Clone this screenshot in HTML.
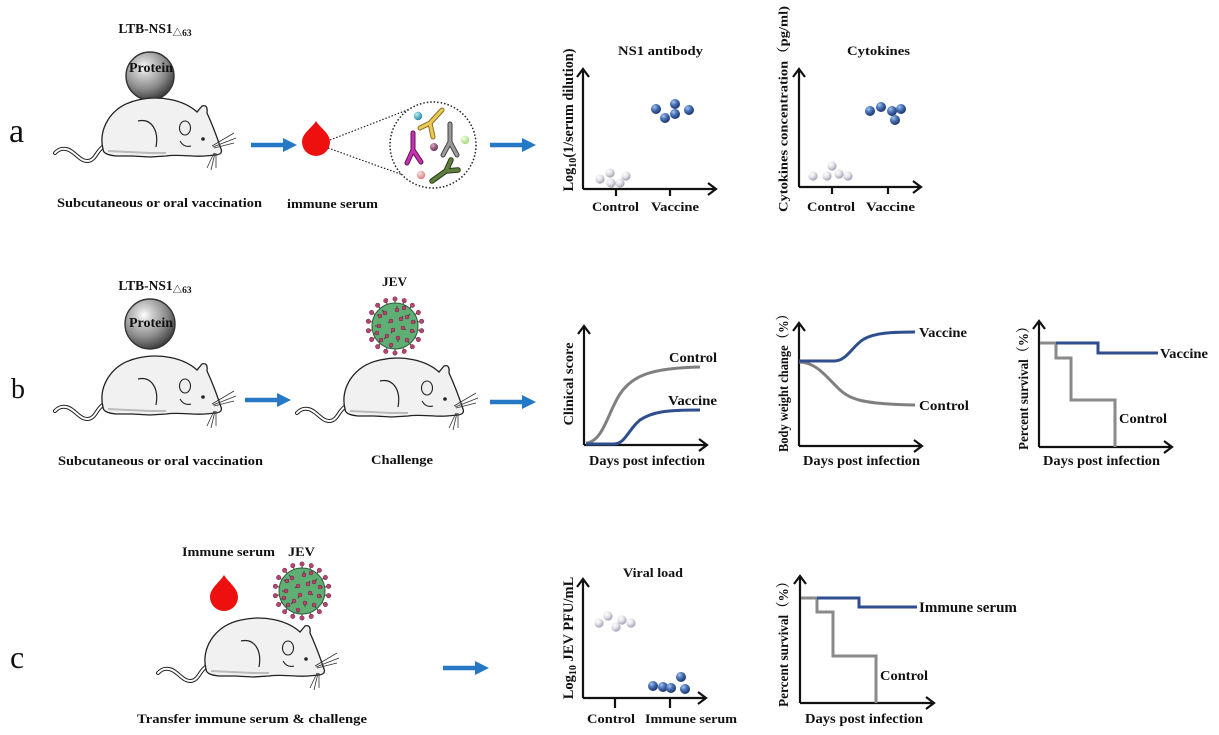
<!DOCTYPE html>
<html>
<head>
<meta charset="utf-8">
<style>
html,body{margin:0;padding:0;background:#fff;}
svg{display:block;}
.t{font-family:"Liberation Serif","Noto Serif CJK SC",serif;font-weight:bold;fill:#111;}
.L{font-family:"Liberation Serif",serif;font-weight:normal;fill:#111;}
</style>
</head>
<body>
<svg width="1219" height="735" viewBox="0 0 1219 735" xmlns="http://www.w3.org/2000/svg">
<defs>
  <radialGradient id="prot" cx="38%" cy="32%" r="70%">
    <stop offset="0" stop-color="#ffffff"/>
    <stop offset="0.22" stop-color="#d0d0d0"/>
    <stop offset="0.65" stop-color="#8a8a8a"/>
    <stop offset="1" stop-color="#3e3e3e"/>
  </radialGradient>
  <radialGradient id="gdot" cx="35%" cy="30%" r="70%">
    <stop offset="0" stop-color="#ffffff"/>
    <stop offset="0.5" stop-color="#e2e2ea"/>
    <stop offset="1" stop-color="#a4a4b4"/>
  </radialGradient>
  <radialGradient id="bdot" cx="35%" cy="30%" r="70%">
    <stop offset="0" stop-color="#a8c4ee"/>
    <stop offset="0.45" stop-color="#4a74b8"/>
    <stop offset="1" stop-color="#1c3670"/>
  </radialGradient>
  <radialGradient id="teal" cx="35%" cy="30%" r="70%"><stop offset="0" stop-color="#b8ecf4"/><stop offset="1" stop-color="#2a8aa4"/></radialGradient>
  <radialGradient id="purp" cx="35%" cy="30%" r="70%"><stop offset="0" stop-color="#d8a8c0"/><stop offset="1" stop-color="#6a3050"/></radialGradient>
  <radialGradient id="lgreen" cx="35%" cy="30%" r="70%"><stop offset="0" stop-color="#f0ffe0"/><stop offset="1" stop-color="#a8d880"/></radialGradient>
  <radialGradient id="pink" cx="35%" cy="30%" r="70%"><stop offset="0" stop-color="#fde0e0"/><stop offset="1" stop-color="#d88080"/></radialGradient>

  <g id="mouse">
    <path d="M104,146 C96,151 96,160 88,161 C80,162 74,150 66,149 C60,148 57,151 55,153" fill="none" stroke="#222" stroke-width="4" stroke-linecap="round"/>
    <path d="M104,146 C96,151 96,160 88,161 C80,162 74,150 66,149 C60,148 57,151 55,153" fill="none" stroke="#fff" stroke-width="2" stroke-linecap="round"/>
    <path d="M103,149 C98,130 110,106 138,100 C160,95 184,100 197,112 L202,106 Q208,104 207,113 C213,126 218,140 221,149 Q223,154 216,155 L205,156 C192,157 178,154 166,156 L150,157 L132,156 L116,156 C107,155 103,153 103,149 Z" fill="#f1f1f1" stroke="#222" stroke-width="1.3"/>
    <path d="M108,151 L150,153 L166,153" fill="none" stroke="#bbb" stroke-width="2"/>
    <ellipse cx="185" cy="128" rx="5.5" ry="7" fill="#eee" stroke="#222" stroke-width="1.1"/>
    <circle cx="203" cy="139" r="1.8" fill="#222"/>
    <path d="M138,121 C152,118 159,131 156,147" fill="none" stroke="#222" stroke-width="1.2"/>
    <path d="M180,141 Q184,148 191,146" fill="none" stroke="#222" stroke-width="1.1"/>
    <path d="M212,146 L234,133 M213,147 L236,138 M214,148 L234,143 M214,153 L207,168 M215,153 L211,170 M216,153 L216,168" stroke="#333" stroke-width="0.8" fill="none"/>
  </g>

  <g id="spike">
    <line x1="0" y1="-22" x2="0" y2="-26" stroke="#2e4a30" stroke-width="1"/>
    <circle cx="0" cy="-27" r="2.2" fill="#b8456f" stroke="#6a2040" stroke-width="0.5"/>
  </g>
  <g id="knob"><circle r="2" fill="#b8456f" stroke="#6a2040" stroke-width="0.5"/></g>
  <g id="virus">
    <use href="#spike" transform="rotate(0)"/><use href="#spike" transform="rotate(20)"/>
    <use href="#spike" transform="rotate(40)"/><use href="#spike" transform="rotate(60)"/>
    <use href="#spike" transform="rotate(80)"/><use href="#spike" transform="rotate(100)"/>
    <use href="#spike" transform="rotate(120)"/><use href="#spike" transform="rotate(140)"/>
    <use href="#spike" transform="rotate(160)"/><use href="#spike" transform="rotate(180)"/>
    <use href="#spike" transform="rotate(200)"/><use href="#spike" transform="rotate(220)"/>
    <use href="#spike" transform="rotate(240)"/><use href="#spike" transform="rotate(260)"/>
    <use href="#spike" transform="rotate(280)"/><use href="#spike" transform="rotate(300)"/>
    <use href="#spike" transform="rotate(320)"/><use href="#spike" transform="rotate(340)"/>
    <circle r="23" fill="#5fae74" stroke="#2e5c3a" stroke-width="1"/>
    <path d="M-10,-13 l-3,-3 M2,-16 l0,-4 M12,-9 l3,-3 M-16,0 l-4,0 M-4,-5 l-3,2 M8,2 l3,2 M17,5 l3,1 M-8,10 l-3,3 M3,12 l0,4 M12,14 l2,3 M-15,-10 l-3,-1 M-2,4 l-2,3 M6,-7 l2,-3 M-14,14 l-2,2 M18,-4 l3,0 M-18,7 l-3,1 M-4,19 l0,3 M9,-18 l1,-3" stroke="#2e4a30" stroke-width="1" fill="none"/>
    <use href="#knob" x="-10" y="-13"/><use href="#knob" x="2" y="-16"/><use href="#knob" x="12" y="-9"/>
    <use href="#knob" x="-16" y="0"/><use href="#knob" x="-4" y="-5"/><use href="#knob" x="8" y="2"/>
    <use href="#knob" x="17" y="5"/><use href="#knob" x="-8" y="10"/><use href="#knob" x="3" y="12"/>
    <use href="#knob" x="12" y="14"/><use href="#knob" x="-15" y="-10"/><use href="#knob" x="-2" y="4"/>
    <use href="#knob" x="6" y="-7"/><use href="#knob" x="-14" y="14"/><use href="#knob" x="18" y="-4"/>
    <use href="#knob" x="-18" y="7"/><use href="#knob" x="-4" y="19"/><use href="#knob" x="9" y="-18"/>
  </g>

  <g id="barrow">
    <line x1="0" y1="0" x2="34" y2="0" stroke="#2478c5" stroke-width="4.5"/>
    <polygon points="32,-7 46,0 32,7" fill="#2478c5"/>
  </g>
</defs>

<!-- ===== Row a ===== -->
<text class="L" x="9" y="142" font-size="34">a</text>
<text class="t" x="155" y="33" font-size="13.5" text-anchor="middle">LTB-NS1<tspan font-size="9.5" dy="3">△63</tspan></text>
<circle cx="150" cy="76" r="24" fill="url(#prot)" stroke="#333" stroke-width="1.4"/>
<text class="t" x="151" y="72" font-size="14" text-anchor="middle">Protein</text>
<use href="#mouse"/>
<text class="t" x="159.5" y="207" font-size="13" text-anchor="middle" textLength="205" lengthAdjust="spacingAndGlyphs">Subcutaneous or oral vaccination</text>
<use href="#barrow" x="251" y="145"/>

<!-- drop + inset -->
<path d="M316,121 C320,128 330,133 330,142 A14,14 0 1 1 302,142 C302,133 312,128 316,121 Z" fill="#ee0f0f"/>
<line x1="330" y1="140" x2="415" y2="107" stroke="#222" stroke-width="1.2" stroke-dasharray="1.5 1.8"/>
<line x1="328" y1="148" x2="428" y2="184" stroke="#222" stroke-width="1.2" stroke-dasharray="1.5 1.8"/>
<circle cx="433" cy="145" r="43" fill="#fff" stroke="#222" stroke-width="1.5" stroke-dasharray="1.5 2"/>
<g fill="none" stroke-linecap="round" stroke-linejoin="round">
  <path d="M442,110 L430,123 L420,128 M430,123 L433,137" stroke="#8a7020" stroke-width="5"/>
  <path d="M442,110 L430,123 L420,128 M430,123 L433,137" stroke="#eacb58" stroke-width="3"/>
  <path d="M413,133 L413,150 L407,163 M413,150 L421,162" stroke="#601050" stroke-width="5"/>
  <path d="M413,133 L413,150 L407,163 M413,150 L421,162" stroke="#c632b4" stroke-width="3"/>
  <path d="M450,124 L450,142 L443,155 M450,142 L457,155" stroke="#404040" stroke-width="5"/>
  <path d="M450,124 L450,142 L443,155 M450,142 L457,155" stroke="#9a9a9a" stroke-width="3"/>
  <path d="M432,181 L446,171 L451,160 M446,171 L458,170" stroke="#2a3a1a" stroke-width="5.5"/>
  <path d="M432,181 L446,171 L451,160 M446,171 L458,170" stroke="#5e7e3e" stroke-width="3.5"/>
</g>
<circle cx="418" cy="116" r="4.2" fill="url(#teal)"/>
<circle cx="434" cy="147" r="4" fill="url(#purp)"/>
<circle cx="465" cy="140" r="4.2" fill="url(#lgreen)"/>
<circle cx="421" cy="175" r="4.2" fill="url(#pink)"/>
<text class="t" x="332.5" y="208" font-size="13" text-anchor="middle" textLength="91" lengthAdjust="spacingAndGlyphs">immune serum</text>
<use href="#barrow" x="490" y="145"/>

<!-- graph a1 -->
<g stroke="#111" stroke-width="2.2" fill="none">
  <path d="M583,189 L583,69 M577,77 L583,69 L589,77"/>
  <path d="M583,189 L716,189 M708,183 L716,189 L708,195"/>
  <path d="M616,189 L616,196 M670,189 L670,196"/>
</g>
<text class="t" x="660.5" y="55" font-size="13" text-anchor="middle" textLength="85" lengthAdjust="spacingAndGlyphs">NS1 antibody</text>
<text class="t" x="615.5" y="211" font-size="13" text-anchor="middle" textLength="47" lengthAdjust="spacingAndGlyphs">Control</text>
<text class="t" x="675" y="211" font-size="13" text-anchor="middle" textLength="48" lengthAdjust="spacingAndGlyphs">Vaccine</text>
<text class="t" font-size="14.2" text-anchor="middle" transform="translate(573,120) rotate(-90)">Log<tspan font-size="10" dy="3">10</tspan><tspan dy="-3">(1/serum dilution)</tspan></text>
<g fill="url(#gdot)">
  <circle cx="600" cy="179" r="4.6"/><circle cx="610" cy="173" r="4.6"/><circle cx="611" cy="183" r="4.6"/>
  <circle cx="620" cy="183" r="4.6"/><circle cx="626" cy="176" r="4.6"/>
</g>
<g fill="url(#bdot)">
  <circle cx="656" cy="109" r="5"/><circle cx="665" cy="118" r="5"/><circle cx="675" cy="104" r="5"/>
  <circle cx="675" cy="114" r="5"/><circle cx="689" cy="110" r="5"/>
</g>

<!-- graph a2 -->
<g stroke="#111" stroke-width="2.2" fill="none">
  <path d="M799,187 L799,69 M793,77 L799,69 L805,77"/>
  <path d="M799,187 L921,187 M913,181 L921,187 L913,193"/>
  <path d="M832,187 L832,194 M888,187 L888,194"/>
</g>
<text class="t" x="878.5" y="55" font-size="13" text-anchor="middle" textLength="63" lengthAdjust="spacingAndGlyphs">Cytokines</text>
<text class="t" x="831" y="211" font-size="13" text-anchor="middle" textLength="48" lengthAdjust="spacingAndGlyphs">Control</text>
<text class="t" x="890.5" y="211" font-size="13" text-anchor="middle" textLength="49" lengthAdjust="spacingAndGlyphs">Vaccine</text>
<text class="t" font-size="13" text-anchor="middle" transform="translate(787.5,109) rotate(-90)" textLength="206" lengthAdjust="spacingAndGlyphs">Cytokines concentration（pg/ml)</text>
<g fill="url(#gdot)">
  <circle cx="813" cy="176" r="4.6"/><circle cx="827" cy="176" r="4.6"/><circle cx="832" cy="166" r="4.6"/>
  <circle cx="839" cy="174" r="4.6"/><circle cx="848" cy="176" r="4.6"/>
</g>
<g fill="url(#bdot)">
  <circle cx="870" cy="111" r="5"/><circle cx="881" cy="107" r="5"/><circle cx="892" cy="111" r="5"/>
  <circle cx="901" cy="109" r="5"/><circle cx="895" cy="120" r="5"/>
</g>

<!-- ===== Row b ===== -->
<text class="L" x="11" y="398" font-size="28">b</text>
<text class="t" x="155" y="290" font-size="13.5" text-anchor="middle">LTB-NS1<tspan font-size="9.5" dy="3">△63</tspan></text>
<circle cx="150" cy="324" r="25" fill="url(#prot)" stroke="#333" stroke-width="1.4"/>
<text class="t" x="151" y="327" font-size="14" text-anchor="middle">Protein</text>
<use href="#mouse" x="0" y="258"/>
<text class="t" x="160.5" y="465" font-size="13" text-anchor="middle" textLength="205" lengthAdjust="spacingAndGlyphs">Subcutaneous or oral vaccination</text>
<use href="#barrow" x="245" y="400"/>

<text class="t" x="394.5" y="286" font-size="13" text-anchor="middle" textLength="25" lengthAdjust="spacingAndGlyphs">JEV</text>
<use href="#virus" x="395" y="326"/>
<use href="#mouse" x="242" y="260"/>
<text class="t" x="402" y="464" font-size="13" text-anchor="middle" textLength="62" lengthAdjust="spacingAndGlyphs">Challenge</text>
<use href="#barrow" x="490" y="402"/>

<!-- graph b1 -->
<g stroke="#111" stroke-width="2.2" fill="none">
  <path d="M584,445 L584,326 M578,334 L584,326 L590,334"/>
  <path d="M584,445 L707,445 M699,439 L707,445 L699,451"/>
</g>
<path d="M586,443 C603,442 608,412 620,394 C632,376 650,368 700,367" fill="none" stroke="#808080" stroke-width="3"/>
<path d="M586,444 L614,444 C625,444 628,430 640,420 C652,412 665,410 700,410" fill="none" stroke="#2f4e8e" stroke-width="3"/>
<text class="t" x="693" y="362" font-size="14" text-anchor="middle" textLength="48" lengthAdjust="spacingAndGlyphs">Control</text>
<text class="t" x="692.5" y="405" font-size="14" text-anchor="middle" textLength="49" lengthAdjust="spacingAndGlyphs">Vaccine</text>
<text class="t" x="647" y="465" font-size="14" text-anchor="middle" textLength="116" lengthAdjust="spacingAndGlyphs">Days post infection</text>
<text class="t" font-size="14" text-anchor="middle" transform="translate(573,384) rotate(-90)" textLength="83" lengthAdjust="spacingAndGlyphs">Clinical score</text>

<!-- graph b2 -->
<g stroke="#111" stroke-width="2.2" fill="none">
  <path d="M799,446 L799,323 M793,331 L799,323 L805,331"/>
  <path d="M799,446 L922,446 M914,440 L922,446 L914,452"/>
</g>
<path d="M799,362 C815,362 825,375 836,386 C849,400 862,404 915,405" fill="none" stroke="#808080" stroke-width="3"/>
<path d="M799,361 L834,361 C847,361 852,346 864,339 C875,333 890,332 915,332" fill="none" stroke="#2f4e8e" stroke-width="3"/>
<text class="t" x="919" y="337" font-size="14" textLength="48" lengthAdjust="spacingAndGlyphs">Vaccine</text>
<text class="t" x="919" y="410" font-size="14" textLength="50" lengthAdjust="spacingAndGlyphs">Control</text>
<text class="t" x="861.5" y="465" font-size="14" text-anchor="middle" textLength="117" lengthAdjust="spacingAndGlyphs">Days post infection</text>
<text class="t" font-size="14" text-anchor="middle" transform="translate(788,380) rotate(-90)" textLength="144" lengthAdjust="spacingAndGlyphs">Body weight change（%）</text>

<!-- graph b3 -->
<g stroke="#111" stroke-width="2.2" fill="none">
  <path d="M1039,447 L1039,321 M1033,329 L1039,321 L1045,329"/>
  <path d="M1039,447 L1172,447 M1164,441 L1172,447 L1164,453"/>
</g>
<path d="M1040,343 L1056,343 L1056,358 L1071,358 L1071,400 L1115,400 L1115,447" fill="none" stroke="#8a8a8a" stroke-width="3"/>
<path d="M1056,343 L1098,343 L1098,353 L1158,353" fill="none" stroke="#2f4e8e" stroke-width="3"/>
<text class="t" x="1160" y="358" font-size="14" textLength="48" lengthAdjust="spacingAndGlyphs">Vaccine</text>
<text class="t" x="1119" y="423" font-size="14" textLength="48" lengthAdjust="spacingAndGlyphs">Control</text>
<text class="t" x="1101.5" y="465" font-size="14" text-anchor="middle" textLength="117" lengthAdjust="spacingAndGlyphs">Days post infection</text>
<text class="t" font-size="14" text-anchor="middle" transform="translate(1028,385) rotate(-90)" textLength="130" lengthAdjust="spacingAndGlyphs">Percent survival（%）</text>

<!-- ===== Row c ===== -->
<text class="L" x="10" y="668" font-size="32">c</text>
<text class="t" x="228.5" y="556" font-size="13" text-anchor="middle" textLength="93" lengthAdjust="spacingAndGlyphs">Immune serum</text>
<text class="t" x="301.5" y="556" font-size="13" text-anchor="middle" textLength="27" lengthAdjust="spacingAndGlyphs">JEV</text>
<path d="M224,575 C228,582 238,588 238,597 A14,14 0 1 1 210,597 C210,588 220,582 224,575 Z" fill="#ee0f0f"/>
<use href="#virus" x="302" y="591"/>
<use href="#mouse" x="103" y="520"/>
<text class="t" x="252" y="723" font-size="13" text-anchor="middle" textLength="230" lengthAdjust="spacingAndGlyphs">Transfer immune serum &amp; challenge</text>
<use href="#barrow" x="443" y="668"/>

<!-- graph c1 -->
<g stroke="#111" stroke-width="2.2" fill="none">
  <path d="M583,698 L583,579 M577,587 L583,579 L589,587"/>
  <path d="M583,698 L706,698 M698,692 L706,698 L698,704"/>
  <path d="M615,698 L615,708 M670,698 L670,708"/>
</g>
<text class="t" x="653" y="577" font-size="13" text-anchor="middle" textLength="60" lengthAdjust="spacingAndGlyphs">Viral load</text>
<text class="t" x="611" y="723" font-size="13" text-anchor="middle" textLength="48" lengthAdjust="spacingAndGlyphs">Control</text>
<text class="t" x="691" y="723" font-size="13" text-anchor="middle" textLength="92" lengthAdjust="spacingAndGlyphs">Immune serum</text>
<text class="t" font-size="14.5" text-anchor="middle" transform="translate(573,638) rotate(-90)">Log<tspan font-size="10" dy="3">10</tspan><tspan dy="-3"> JEV PFU/mL</tspan></text>
<g fill="url(#gdot)">
  <circle cx="599" cy="623" r="4.6"/><circle cx="608" cy="616" r="4.6"/><circle cx="616" cy="627" r="4.6"/>
  <circle cx="622" cy="620" r="4.6"/><circle cx="631" cy="623" r="4.6"/>
</g>
<g fill="url(#bdot)">
  <circle cx="653" cy="686" r="5"/><circle cx="663" cy="687" r="5"/><circle cx="671" cy="688" r="5"/>
  <circle cx="681" cy="677" r="5"/><circle cx="685" cy="689" r="5"/>
</g>

<!-- graph c2 -->
<g stroke="#111" stroke-width="2.2" fill="none">
  <path d="M800,703 L800,576 M794,584 L800,576 L806,584"/>
  <path d="M800,703 L934,703 M926,697 L934,703 L926,709"/>
</g>
<path d="M801,598 L817,598 L817,612 L833,612 L833,656 L876,656 L876,703" fill="none" stroke="#8a8a8a" stroke-width="3"/>
<path d="M817,598 L859,598 L859,607 L917,607" fill="none" stroke="#2f4e8e" stroke-width="3"/>
<text class="t" x="919" y="612" font-size="15">Immune serum</text>
<text class="t" x="880" y="680" font-size="14" textLength="48" lengthAdjust="spacingAndGlyphs">Control</text>
<text class="t" x="864" y="723" font-size="14" text-anchor="middle" textLength="118" lengthAdjust="spacingAndGlyphs">Days post infection</text>
<text class="t" font-size="14" text-anchor="middle" transform="translate(788,641) rotate(-90)" textLength="132" lengthAdjust="spacingAndGlyphs">Percent survival（%）</text>
</svg>
</body>
</html>
